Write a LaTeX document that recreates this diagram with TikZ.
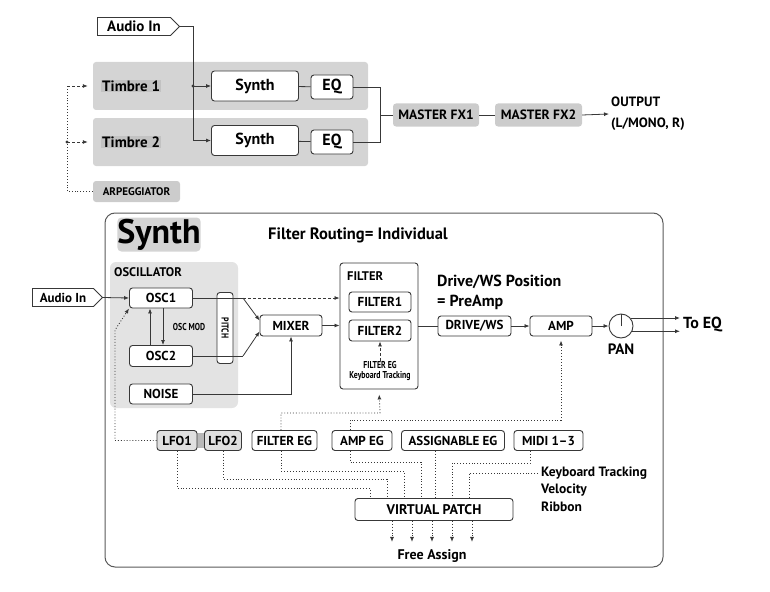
\documentclass[tikz,border=0pt]{standalone}
\usepackage{fontspec}
\setmainfont{PT Sans}
\newfontfamily\narrowfont[FakeStretch=0.78]{PT Sans}
\usetikzlibrary{arrows.meta,positioning,shapes.symbols}
\definecolor{lineclr}{gray}{0.22}
\definecolor{boxgray}{gray}{0.80}
\definecolor{oscgray}{gray}{0.89}
\tikzset{>={Latex[length=5pt,width=4pt]}}
\tikzset{
  blk/.style={draw=lineclr, fill=white, rounded corners=3pt, line width=0.9pt, inner sep=0pt,
    font=\bfseries\fontsize{13}{15}\selectfont, minimum height=20},
  gblk/.style={fill=boxgray, rounded corners=3pt, inner sep=0pt,
    font=\bfseries\fontsize{13.5}{15}\selectfont, minimum height=23},
  tag/.style={shape=signal, signal to=east, draw=lineclr, fill=white, line width=0.9pt,
    inner sep=2pt, font=\bfseries\fontsize{15}{17}\selectfont},
  sig/.style={draw=lineclr, line width=0.8pt},
  modl/.style={draw=lineclr, line width=0.9pt, dotted},
  dsh/.style={draw=lineclr, line width=0.8pt, dash pattern=on 3pt off 2pt},
  lbl/.style={inner sep=0pt, font=\bfseries\fontsize{12.5}{14}\selectfont},
  narrowlbl/.style={inner sep=0pt, font=\narrowfont\bfseries\fontsize{10}{10.5}\selectfont, align=center},
}

\begin{document}
\begin{tikzpicture}[x=1pt,y=-1pt]
\useasboundingbox (0,0) rectangle (770,591);

% timbres
\node[gblk, minimum width=275, minimum height=48, fill=black!17] (tb1) at (230.5,86) {};
\node[gblk, minimum width=275, minimum height=48, fill=black!17] (tb2) at (230.5,142) {};
\node[lbl, fill=black!24, inner sep=1pt, anchor=west, font=\bfseries\fontsize{15}{17}\selectfont] (tn1) at (101,86) {Timbre 1};
\node[lbl, fill=black!24, inner sep=1pt, anchor=west, font=\bfseries\fontsize{15}{17}\selectfont] (tn2) at (101,142) {Timbre 2};
\node[tag, minimum width=82, minimum height=18] (ain) at (134,26.5) {Audio In};
\node[blk, minimum width=87, minimum height=30, font=\bfseries\fontsize{16}{18}\selectfont] (sy1) at (255,86) {Synth};
\node[blk, minimum width=42, minimum height=24, font=\bfseries\fontsize{16}{18}\selectfont] (eq1) at (332,87) {EQ};
\node[blk, minimum width=87, minimum height=30, font=\bfseries\fontsize{16}{18}\selectfont] (sy2) at (255,140.5) {Synth};
\node[blk, minimum width=42, minimum height=24, font=\bfseries\fontsize{16}{18}\selectfont] (eq2) at (332,142) {EQ};
\node[gblk, minimum width=86] (mfx1) at (436,115) {MASTER FX1};
\node[gblk, minimum width=87] (mfx2) at (538.5,115) {MASTER FX2};
\node[lbl, align=left, anchor=west, inner sep=2pt, font=\bfseries\fontsize{13.5}{21}\selectfont] (out) at (609,114) {OUTPUT\\(L/MONO, R)};
\node[gblk, minimum width=87, minimum height=21, font=\bfseries\fontsize{11}{12}\selectfont] (arp) at (136.5,191.5) {ARPEGGIATOR};

\coordinate (ajn) at (193,86);
\draw[sig] (ain.east) -| (ajn);
\draw[sig,->] (ajn) -- (sy1.west);
\draw[sig,->] (ajn) |- (sy2.west);
\fill[lineclr] (ajn) circle (1.6);
\draw[sig] (sy1) -- (eq1);
\draw[sig] (sy2) -- (eq2);
\coordinate (mrg) at (380,115);
\draw[sig] (eq1.east) -| (mrg) -- (mfx1.west);
\draw[sig] (eq2.east) -| (mrg);
\draw[sig] (mfx1) -- (mfx2);
\draw[sig,->] (mfx2.east) -- (out.west);

\coordinate (ap) at (67,86);
\draw[modl] (arp.west) -| (ap);
\draw[dsh,->] (ap) -- ([xshift=-5]tb1.west);
\draw[dsh,->] (ap |- tb2) -- ([xshift=-5]tb2.west);
\fill[lineclr] (ap |- tb2) circle (1.6);

% synth detail
\draw[draw=black!65, line width=1pt, rounded corners=10pt] (105,213) rectangle (663,567);
\node[fill=black!17, rounded corners=4pt, minimum width=82, minimum height=34, inner sep=0pt,
  font=\bfseries\fontsize{34}{36}\selectfont] (ttl) at (159,234.5) {Synth};
\node[anchor=west, inner sep=0pt, font=\bfseries\fontsize{16.5}{18}\selectfont] (frt) at (268,235) {Filter Routing= Individual};

\fill[oscgray, rounded corners=6pt] (110,262) rectangle (238,408);
\node[lbl, anchor=west] (osct) at (114,272) {OSCILLATOR};
\node[tag, minimum width=70, minimum height=18, font=\bfseries\fontsize{13}{15}\selectfont] (ain2) at (63,297.5) {Audio In};
\node[blk, minimum width=63] (osc1) at (161,298) {OSC1};
\node[blk, minimum width=63, minimum height=21] (osc2) at (161,356) {OSC2};
\node[blk, minimum width=63] (noise) at (161,394) {NOISE};
\node[narrowlbl] (oscm) at (189,327) {OSC MOD};
\node[blk, rotate=-90, minimum width=71, minimum height=16, font=\narrowfont\bfseries\fontsize{10}{10}\selectfont] (pitch) at (225,328) {PITCH};
\node[blk, minimum width=62, minimum height=21] (mixer) at (291,325.5) {MIXER};

\node[blk, minimum width=78, minimum height=126] (filt) at (379,326) {};
\node[lbl, anchor=west] (filtt) at (347,276) {FILTER};
\node[blk, minimum width=62] (flt1) at (380,302) {FILTER1};
\node[blk, minimum width=62, minimum height=21] (flt2) at (380,330.5) {FILTER2};
\node[narrowlbl] (fegk) at (380,371) {FILTER EG\\Keyboard Tracking};

\node[anchor=north west, align=left, inner sep=0pt, font=\bfseries\fontsize{16}{20}\selectfont] (dwp) at (437,275) {Drive/WS Position\\= PreAmp};
\node[blk, minimum width=73] (drv) at (474.5,326) {DRIVE/WS};
\node[blk, minimum width=62] (amp) at (561,326) {AMP};
\node[circle, draw=lineclr, fill=white, line width=0.9pt, minimum size=24, inner sep=0pt] (pan) at (621,326) {};
\draw[sig] (pan.center) -- (pan.north);
\node[lbl, font=\bfseries\fontsize{15}{17}\selectfont] (pant) at (621,349) {PAN};
\node[lbl, anchor=west, font=\bfseries\fontsize{16}{18}\selectfont, inner sep=3pt] (toeq) at (680,325) {To EQ};

\draw[sig,->] (ain2.east) -- (osc1.west);
\draw[sig,->] ([xshift=-11]osc2.north) -- ([xshift=-11]osc1.south);
\draw[sig,->] ([xshift=2]osc1.south) -- ([xshift=2]osc2.north);
\draw[sig] (osc1.east) -- (osc1.east -| pitch.north);
\draw[sig] (osc2.east) -- (osc2.east -| pitch.north);
\coordinate (pa) at (243,298);
\coordinate (pb) at (243,356);
\draw[sig] (osc1.east -| pitch.south) -- (pa);
\draw[sig] (osc2.east -| pitch.south) -- (pb);
\draw[sig,->] (pa) -- ([yshift=5]mixer.west);
\draw[sig,->] (pb) -- ([yshift=-6]mixer.west);
\draw[dsh,->] (pa) -- (pa -| filt.west);
\draw[sig,->] (mixer.east) -- (mixer.east -| filt.west);
\draw[sig,->] (noise.east) -| (mixer.south);
\draw[dsh,->] (fegk.north) -- (flt2.south);
\draw[sig] (filt.east |- drv.west) -- (drv.west);
\draw[sig,->] (drv) -- (amp);
\draw[sig,->] (amp) -- (pan);
\draw[sig,->] (pan.40) -- (pan.40 -| toeq.west);
\draw[sig,->] (pan.-25) -- (pan.-25 -| toeq.west);

% modulation sources
\fill[black!28] (177,433) rectangle (223,448);
\node[blk, fill=black!12, minimum width=40] (lfo1) at (177,440.5) {LFO1};
\node[blk, fill=black!12, minimum width=37] (lfo2) at (223,440.5) {LFO2};
\node[blk, minimum width=65] (feg) at (284.5,440.5) {FILTER EG};
\node[blk, minimum width=60] (aeg) at (362,440.5) {AMP EG};
\node[blk, minimum width=103] (seg) at (453,440.5) {ASSIGNABLE EG};
\node[blk, minimum width=69] (midi) at (548.5,440.5) {MIDI 1--3};
\node[blk, minimum width=158, minimum height=22, font=\bfseries\fontsize{14}{16}\selectfont] (vp) at (434,509.5) {VIRTUAL PATCH};
\node[lbl, anchor=west, font=\bfseries\fontsize{13.5}{15}\selectfont] (kbt) at (541,473) {Keyboard Tracking};
\node[lbl, anchor=west, font=\bfseries\fontsize{13.5}{15}\selectfont] (vel) at (541,490) {Velocity};
\node[lbl, anchor=west, font=\bfseries\fontsize{13.5}{15}\selectfont] (rib) at (541,507) {Ribbon};
\node[lbl, font=\bfseries\fontsize{14}{16}\selectfont] (fas) at (432,556) {Free Assign};

\coordinate (lo) at (115,330);
\draw[modl,->] (lfo1.west) -| (lo) -- (osc1.south west);
\coordinate (fb) at (380,413);
\draw[modl,->,shorten >=5pt] ([xshift=-3.5]feg.north) |- (fb) -- (filt.south);
\coordinate (ab) at (561,420);
\draw[modl,->,shorten >=4pt] ([xshift=-12]aeg.north) |- (ab) -- (amp.south);

\coordinate (b1) at (370,488);
\coordinate (b2) at (387,479);
\coordinate (b3) at (404,471);
\coordinate (b4) at (421,462);
\coordinate (b6) at (452,463);
\coordinate (b7) at (469,473);
\draw[modl] (lfo1.south) |- (b1) -- (b1 |- vp.north);
\draw[modl] (lfo2.south) |- (b2) -- (b2 |- vp.north);
\draw[modl] ([xshift=-3.5]feg.south) |- (b3) -- (b3 |- vp.north);
\draw[modl] ([xshift=-12]aeg.south) |- (b4) -- (b4 |- vp.north);
\draw[modl] ([xshift=-18]seg.south) -- ([xshift=-18]seg.south |- vp.north);
\draw[modl] ([xshift=-18.5]midi.south) |- (b6) -- (b6 |- vp.north);
\draw[modl] ([xshift=-3]kbt.west) -- (b7) -- (b7 |- vp.north);
\foreach \dx in {-42,-22,-2,18,38}
  \draw[modl,->] ([xshift=\dx]vp.south) -- ++(0,21);
\end{tikzpicture}
\end{document}
